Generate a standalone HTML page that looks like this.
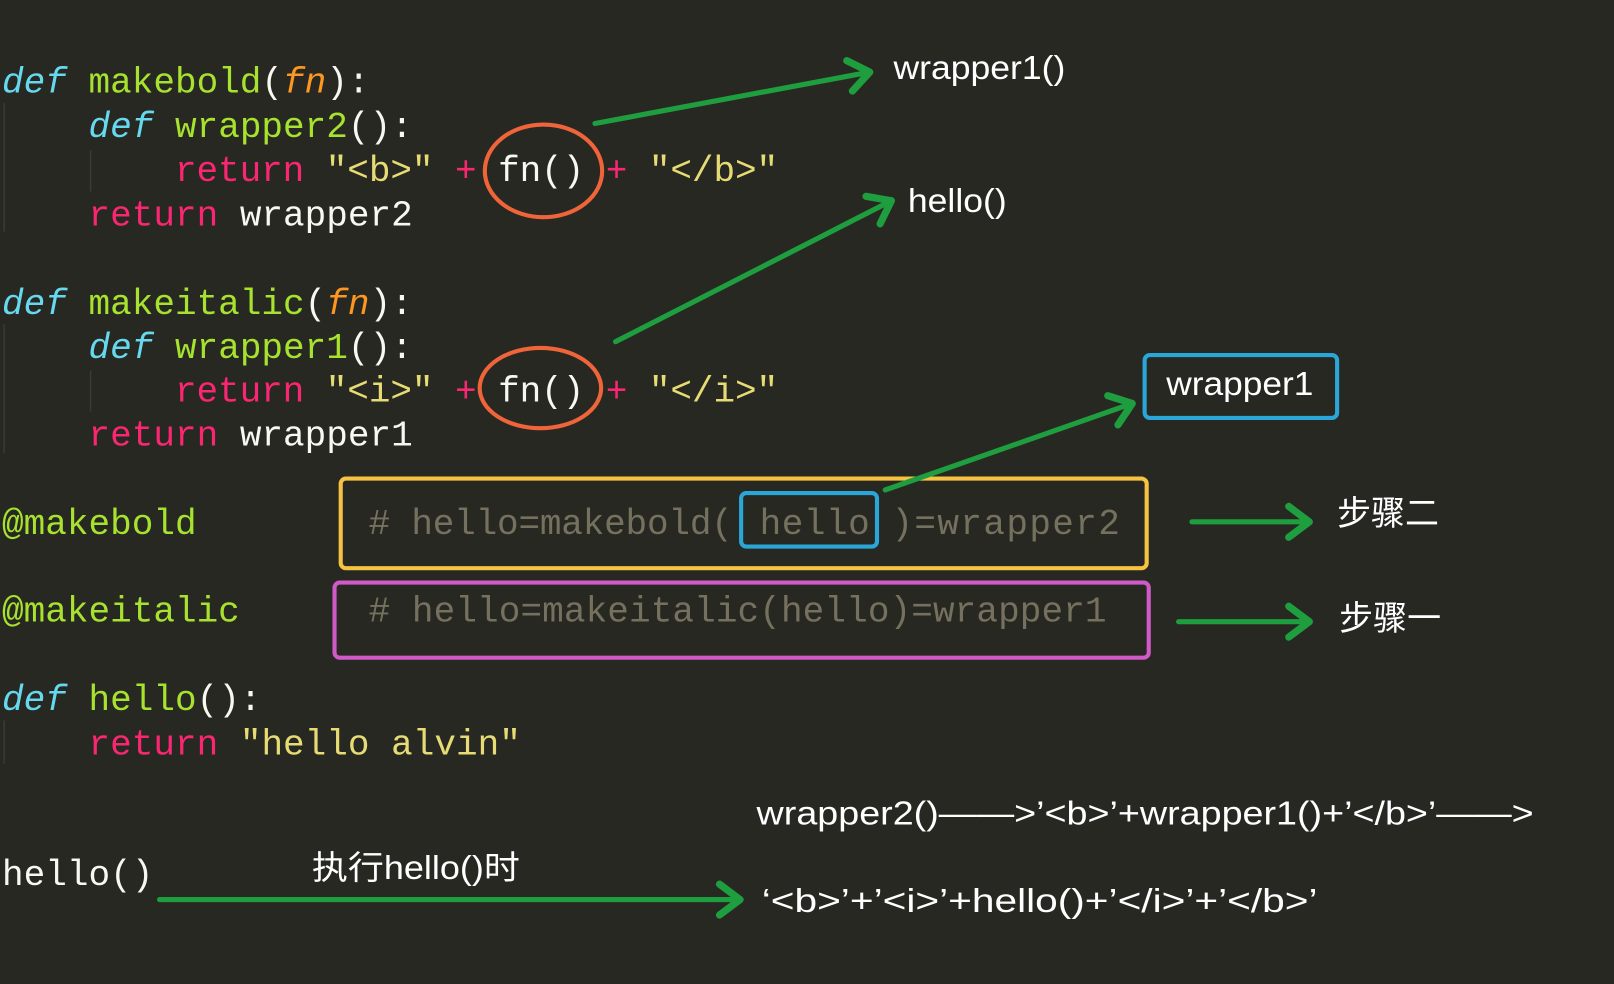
<!DOCTYPE html>
<html><head><meta charset="utf-8"><style>
html,body{margin:0;padding:0;background:#272822;}
svg{display:block}
.m{font-family:"Liberation Mono",monospace;font-size:35px}
.s{font-family:"Liberation Sans","Noto Sans CJK SC",sans-serif;fill:#fff}
</style></head><body>
<svg width="1614" height="984" viewBox="0 0 1568 956" preserveAspectRatio="none" xmlns="http://www.w3.org/2000/svg">
<rect width="1568" height="956" fill="#272822"/>
<defs><marker id="a" markerWidth="8" markerHeight="8" refX="5" refY="4" orient="auto" markerUnits="strokeWidth"><path d="M1,1 L5,4 L1,7" fill="none" stroke="#1e9e3e" stroke-width="1.4" stroke-linecap="round" stroke-linejoin="round"/></marker></defs>
<g stroke="#3a3b35" stroke-width="1.5">
<line x1="4" y1="100" x2="4" y2="225"/><line x1="88" y1="146" x2="88" y2="186"/>
<line x1="4" y1="315" x2="4" y2="440"/><line x1="88" y1="360" x2="88" y2="400"/>
<line x1="4" y1="700" x2="4" y2="742"/>
</g>
<g class="m">
<text x="2" y="90"><tspan fill="#66d9ef" font-style="italic">def</tspan><tspan fill="#a6e22e"> makebold</tspan><tspan fill="#f8f8f2">(</tspan><tspan fill="#fd971f" font-style="italic">fn</tspan><tspan fill="#f8f8f2">):</tspan></text>
<text x="86" y="133"><tspan fill="#66d9ef" font-style="italic">def</tspan><tspan fill="#a6e22e"> wrapper2</tspan><tspan fill="#f8f8f2">():</tspan></text>
<text x="170" y="176" xml:space="preserve" textLength="586" lengthAdjust="spacing"><tspan fill="#f92672">return</tspan> <tspan fill="#e6db74">"&lt;b&gt;"</tspan> <tspan fill="#f92672">+</tspan> <tspan fill="#f8f8f2">fn()</tspan> <tspan fill="#f92672">+</tspan> <tspan fill="#e6db74">"&lt;/b&gt;"</tspan></text>
<text x="86" y="219" xml:space="preserve"><tspan fill="#f92672">return</tspan> <tspan fill="#f8f8f2">wrapper2</tspan></text>
<text x="2" y="305"><tspan fill="#66d9ef" font-style="italic">def</tspan><tspan fill="#a6e22e"> makeitalic</tspan><tspan fill="#f8f8f2">(</tspan><tspan fill="#fd971f" font-style="italic">fn</tspan><tspan fill="#f8f8f2">):</tspan></text>
<text x="86" y="348"><tspan fill="#66d9ef" font-style="italic">def</tspan><tspan fill="#a6e22e"> wrapper1</tspan><tspan fill="#f8f8f2">():</tspan></text>
<text x="170" y="390" xml:space="preserve" textLength="586" lengthAdjust="spacing"><tspan fill="#f92672">return</tspan> <tspan fill="#e6db74">"&lt;i&gt;"</tspan> <tspan fill="#f92672">+</tspan> <tspan fill="#f8f8f2">fn()</tspan> <tspan fill="#f92672">+</tspan> <tspan fill="#e6db74">"&lt;/i&gt;"</tspan></text>
<text x="86" y="433" xml:space="preserve"><tspan fill="#f92672">return</tspan> <tspan fill="#f8f8f2">wrapper1</tspan></text>
<text x="2" y="519" fill="#a6e22e">@makebold</text>
<text x="2" y="604" fill="#a6e22e">@makeitalic</text>
<text x="358" y="519" fill="#75715e" xml:space="preserve" textLength="354" lengthAdjust="spacing"># hello=makebold(</text>
<text x="738" y="519" fill="#75715e" textLength="107" lengthAdjust="spacing">hello</text>
<text x="866" y="519" fill="#75715e" textLength="222" lengthAdjust="spacing">)=wrapper2</text>
<text x="358" y="604" fill="#75715e" xml:space="preserve" textLength="717" lengthAdjust="spacing"># hello=makeitalic(hello)=wrapper1</text>
<text x="2" y="690"><tspan fill="#66d9ef" font-style="italic">def</tspan><tspan fill="#a6e22e"> hello</tspan><tspan fill="#f8f8f2">():</tspan></text>
<text x="86" y="733" xml:space="preserve"><tspan fill="#f92672">return</tspan> <tspan fill="#e6db74">"hello alvin"</tspan></text>
<text x="2" y="860" fill="#f8f8f2">hello()</text>
</g>
<g fill="none">
<ellipse cx="528" cy="166" rx="57" ry="45" stroke="#f0643a" stroke-width="4"/>
<ellipse cx="525" cy="377" rx="59" ry="39" stroke="#f0643a" stroke-width="4"/>
<rect x="331" y="465" width="783" height="87" rx="5" stroke="#f5c242" stroke-width="4"/>
<rect x="720" y="479" width="132" height="52" rx="5" stroke="#2aa7d8" stroke-width="4"/>
<rect x="325" y="566" width="791" height="73" rx="5" stroke="#d05ac8" stroke-width="4"/>
<rect x="1112" y="345" width="187" height="61" rx="5" stroke="#2aa7d8" stroke-width="4"/>
</g>
<g stroke="#1e9e3e" stroke-width="5" stroke-linecap="round" fill="none" marker-end="url(#a)">
<line x1="578" y1="120" x2="845" y2="70"/>
<line x1="598" y1="332" x2="866" y2="195"/>
<line x1="860" y1="476" x2="1100" y2="392"/>
<line x1="1158" y1="507" x2="1272" y2="507"/>
<line x1="1145" y1="604" x2="1272" y2="604"/>
<line x1="155" y1="874" x2="719" y2="874"/>
</g>
<g class="s" font-size="32">
<text x="868" y="77" textLength="167" lengthAdjust="spacingAndGlyphs">wrapper1()</text>
<text x="882" y="206" textLength="96" lengthAdjust="spacingAndGlyphs">hello()</text>
<text x="1133" y="384" textLength="143" lengthAdjust="spacingAndGlyphs">wrapper1</text>
<text x="1299" y="510" font-size="33">步骤二</text>
<text x="1301" y="612" font-size="33">步骤一</text>
<text x="303" y="854" textLength="202" lengthAdjust="spacingAndGlyphs">执行hello()时</text>
<text x="735" y="801" textLength="755" lengthAdjust="spacingAndGlyphs">wrapper2()——&gt;’&lt;b&gt;’+wrapper1()+’&lt;/b&gt;’——&gt;</text>
<text x="740" y="886" textLength="540" lengthAdjust="spacingAndGlyphs">‘&lt;b&gt;’+’&lt;i&gt;’+hello()+’&lt;/i&gt;’+’&lt;/b&gt;’</text>
</g>
</svg>
</body></html>
